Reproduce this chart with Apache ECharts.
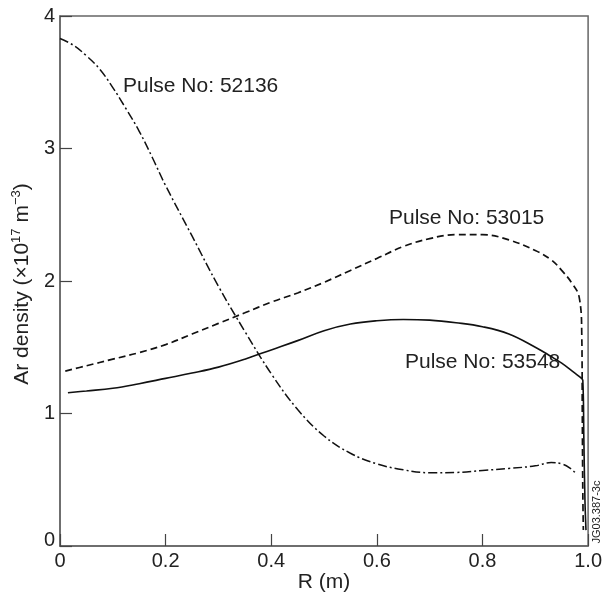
<!DOCTYPE html>
<html>
<head>
<meta charset="utf-8">
<script src="https://cdn.jsdelivr.net/npm/echarts@6/dist/echarts.min.js"></script>
<style>html,body{margin:0;padding:0;background:#fff}#c{width:605px;height:599px}</style>
</head>
<body>
<div id="c"></div>
<script>
// Pulse No: 52136 (dash-dot)
const r52136 = [0, 0.025, 0.05, 0.075, 0.1, 0.125, 0.15, 0.175, 0.2, 0.25, 0.3, 0.35, 0.4, 0.45, 0.5, 0.55, 0.6, 0.65, 0.7, 0.75, 0.8, 0.85, 0.9, 0.93, 0.95, 0.965, 0.979];
const n52136 = [3.83, 3.78, 3.70, 3.60, 3.46, 3.30, 3.13, 2.93, 2.72, 2.34, 1.96, 1.62, 1.30, 1.03, 0.83, 0.70, 0.62, 0.575, 0.553, 0.555, 0.57, 0.585, 0.605, 0.63, 0.62, 0.59, 0.54];
// Pulse No: 53015 (dashed)
const r53015 = [0.01, 0.05, 0.1, 0.15, 0.2, 0.25, 0.3, 0.35, 0.4, 0.45, 0.5, 0.55, 0.6, 0.65, 0.7, 0.75, 0.8, 0.85, 0.9, 0.93, 0.95, 0.97, 0.983, 0.988, 0.989, 0.990, 0.991];
const n53015 = [1.32, 1.36, 1.41, 1.46, 1.52, 1.60, 1.68, 1.76, 1.84, 1.91, 1.99, 2.08, 2.17, 2.26, 2.32, 2.35, 2.35, 2.31, 2.23, 2.16, 2.08, 1.98, 1.88, 1.6, 1.0, 0.4, 0.12];
// Pulse No: 53548 (solid)
const r53548 = [0.015, 0.05, 0.1, 0.15, 0.2, 0.25, 0.3, 0.35, 0.4, 0.45, 0.5, 0.55, 0.6, 0.65, 0.7, 0.75, 0.8, 0.85, 0.9, 0.93, 0.95, 0.97, 0.983, 0.99, 0.992, 0.994, 0.996];
const n53548 = [1.157, 1.17, 1.19, 1.225, 1.265, 1.305, 1.35, 1.41, 1.48, 1.55, 1.625, 1.675, 1.70, 1.71, 1.705, 1.685, 1.655, 1.60, 1.50, 1.43, 1.38, 1.32, 1.28, 1.25, 0.8, 0.35, 0.12];

const xTicks = ['0', '0.2', '0.4', '0.6', '0.8', '1.0'];
const yTicks = ['0', '1', '2', '3', '4'];
const seriesNames = ['Pulse No: 52136', 'Pulse No: 53015', 'Pulse No: 53548'];

const pair = (xs, ys) => xs.map((x, i) => [x, ys[i]]);
const FONT = '"Liberation Sans", Arial, Helvetica, sans-serif';
const AX = '#666';
const TXT = '#222';

const chart = echarts.init(document.getElementById('c'), null, {renderer: 'canvas'});
chart.setOption({
  backgroundColor: '#fff',
  animation: false,
  grid: {left: 60, right: 16, top: 16, bottom: 53, show: true, borderColor: AX, borderWidth: 1.5, backgroundColor: 'transparent'},
  xAxis: {
    type: 'value', min: 0, max: 1, interval: 0.2,
    axisLine: {show: true, lineStyle: {color: AX, width: 1.5}},
    axisTick: {show: true, inside: true, length: 12, lineStyle: {color: '#444', width: 1.2}},
    splitLine: {show: false},
    axisLabel: {
      margin: 5, fontSize: 20, color: TXT, fontFamily: FONT,
      formatter: v => xTicks[Math.round(v / 0.2)]
    }
  },
  yAxis: {
    type: 'value', min: 0, max: 4, interval: 1,
    axisLine: {show: true, lineStyle: {color: AX, width: 1.5}},
    axisTick: {show: true, inside: true, length: 12, lineStyle: {color: '#444', width: 1.2}},
    splitLine: {show: false},
    axisLabel: {
      margin: 5, fontSize: 20, color: TXT, fontFamily: FONT,
      formatter: v => v === 0 ? '{z|0}' : yTicks[Math.round(v)],
      rich: {z: {fontSize: 20, color: TXT, fontFamily: FONT, padding: [0, 0, 12, 0]}}
    }
  },
  series: [
    {name: seriesNames[0], type: 'line', data: pair(r52136, n52136), showSymbol: false, smooth: 0.4,
     lineStyle: {color: '#111', width: 1.5, type: [9, 3, 2, 3]}},
    {name: seriesNames[1], type: 'line', data: pair(r53015, n53015), showSymbol: false, smooth: 0.4,
     lineStyle: {color: '#111', width: 1.7, type: [7, 4]}},
    {name: seriesNames[2], type: 'line', data: pair(r53548, n53548), showSymbol: false, smooth: 0.4,
     lineStyle: {color: '#111', width: 1.6, type: 'solid'}}
  ],
  graphic: [
    {type: 'text', left: 123, top: 76, style: {text: seriesNames[0], font: '21px ' + FONT, fill: TXT}},
    {type: 'text', left: 389, top: 208, style: {text: seriesNames[1], font: '21px ' + FONT, fill: TXT}},
    {type: 'text', left: 405, top: 352, style: {text: seriesNames[2], font: '21px ' + FONT, fill: TXT}},
    {type: 'text', x: 324, y: 582, style: {text: 'R (m)', font: '21px ' + FONT, fill: TXT, textAlign: 'center', textVerticalAlign: 'middle'}},
    {type: 'text', x: 22, y: 284, rotation: Math.PI / 2,
     style: {text: 'Ar density (×10{s|17} m{s|−3})', font: '21px ' + FONT, fill: TXT, textAlign: 'center', textVerticalAlign: 'middle',
       rich: {s: {fontSize: 13, fontFamily: FONT, fill: TXT, verticalAlign: 'top', lineHeight: 24}}}},
    {type: 'text', x: 597, y: 512, rotation: Math.PI / 2,
     style: {text: 'JG03.387-3c', font: '11px ' + FONT, fill: TXT, textAlign: 'center', textVerticalAlign: 'middle'}}
  ]
});
</script>
</body>
</html>
